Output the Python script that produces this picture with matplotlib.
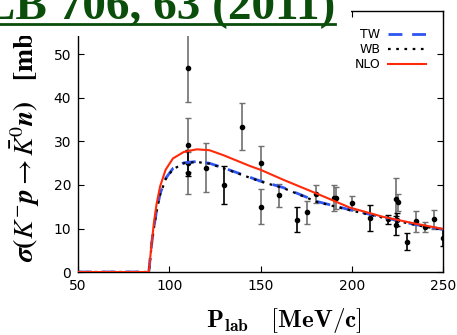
import numpy as np
import matplotlib
matplotlib.use("Agg")
from matplotlib import pyplot as plt
from matplotlib.lines import Line2D
from matplotlib.patches import Rectangle

# theory curves
x_nlo = [50, 88.8, 89.5, 90.5, 91.5, 93, 95, 98, 102, 108, 115, 122, 130, 144, 150,
         162.5, 181, 199, 217, 235, 250]
y_nlo = [0, 0, 3.0, 7.0, 11.0, 15.5, 19.7, 23.5, 26.1, 27.6, 28.2, 28.0, 26.8, 24.4, 23.5,
         21.2, 18.0, 14.8, 12.7, 11.1, 9.9]

x_tw = [50, 88.8, 89.5, 90.5, 91.5, 93, 95, 98, 102, 108, 115, 122, 130, 144, 150,
        162.5, 181, 199, 217, 235, 250]
y_tw = [0, 0, 3.0, 7.0, 10.0, 14.0, 18.0, 21.5, 23.8, 25.1, 25.4, 25.0, 23.9, 21.8, 20.9,
        19.4, 16.2, 14.3, 12.6, 10.9, 9.8]
y_wb = [0, 0, 2.8, 6.8, 9.8, 13.8, 17.8, 21.3, 23.6, 25.0, 25.3, 24.9, 23.8, 21.7, 20.8,
        19.3, 16.1, 14.2, 12.5, 10.8, 9.7]

# data with grey error bars
xg = [110, 110, 110, 120, 140, 150, 150, 160, 175.3, 180.2, 190.3, 191.4, 200.3,
      224.5, 225.5, 235.2, 240.1, 245.2]
yg = [47.0, 29.3, 22.8, 24.0, 33.4, 25.0, 15.0, 17.6, 13.7, 17.9, 17.0, 17.0, 15.8,
      16.8, 16.0, 11.7, 10.3, 12.1]
eg = [8.0, 6.2, 4.8, 5.7, 5.4, 4.0, 4.0, 2.7, 2.7, 2.0, 2.9, 2.5, 1.6,
      4.9, 2.0, 2.4, 1.2, 2.1]

# data with black error bars
xb = [110, 130, 170.2, 210, 220, 225, 224.5, 230.1, 250]
yb = [25.1, 20.0, 12.0, 12.5, 12.1, 12.0, 10.7, 7.0, 7.9]
eb = [3.0, 4.4, 2.9, 3.0, 1.0, 1.5, 2.2, 1.9, 2.0]

fig = plt.figure(figsize=(4.57, 3.35), dpi=100)
ax = fig.add_axes([78/457, 1-272/335, 365/457, 261/335])

ax.errorbar(xg, yg, yerr=eg, fmt='o', ms=3, color='black', ecolor='#707070',
            elinewidth=1.2, capsize=2.5, capthick=1.0, zorder=3)
ax.errorbar(xb, yb, yerr=eb, fmt='o', ms=3, color='black', ecolor='black',
            elinewidth=1.2, capsize=2.5, capthick=1.0, zorder=3)

ax.plot(x_tw, y_tw, color='#2e55f0', lw=2.0, dashes=(5, 3.5), label='TW', zorder=4)
ax.plot(x_tw, y_wb, color='black', lw=1.6, dashes=(1.2, 2.5), label='WB', zorder=4)
ax.plot(x_nlo, y_nlo, color='#ff2a0a', lw=1.5, label='NLO', zorder=5)

ax.set_xlim(50, 250)
ax.set_ylim(0, 60)
ax.set_xticks([50, 100, 150, 200, 250])
ax.set_yticks([0, 10, 20, 30, 40, 50])
ax.tick_params(direction='in', length=4, labelsize=10, top=True, right=True, pad=5)
for s in ax.spines.values():
    s.set_linewidth(1.0)

ax.legend(loc='upper right', frameon=False, markerfirst=False, fontsize=9,
          handlelength=3.0, handletextpad=0.6, labelspacing=0.15,
          borderaxespad=1.4, borderpad=0.0)

fig.text(25/457, 1-262/335,
         r"$\boldsymbol{\sigma}\mathbf{(}\boldsymbol{K^{-}p}\rightarrow\boldsymbol{\bar{K}^{0}n}\mathbf{)}\quad\mathbf{[mb]}$",
         rotation=90, ha='center', va='bottom', fontsize=20, math_fontfamily='stix')
fig.text(284/457, 1-327/335, r"$\mathbf{P_{lab}\ \ \ [MeV/c]}$", ha='center', va='baseline',
         fontsize=18, math_fontfamily='cm')

# white box behind the title, hides the top of the frame and label
fig.add_artist(Rectangle((0, 1-36/335), 351/457, 36/335, transform=fig.transFigure,
                         facecolor='white', edgecolor='none', zorder=10))
t = fig.text(335/457, 1-19/335, "PLB 706, 63 (2011)", ha='right', va='baseline',
             fontsize=34, fontweight='bold', family='Liberation Serif',
             color='#0b4d0b', zorder=11)
fig.canvas.draw()
bb = t.get_window_extent()
fig.add_artist(Line2D([max(bb.x0, 0)/457, bb.x1/457], [1-23.5/335, 1-23.5/335],
                      transform=fig.transFigure, color='#0b4d0b', lw=2.0, zorder=11))

fig.savefig("out.png", dpi=100)
